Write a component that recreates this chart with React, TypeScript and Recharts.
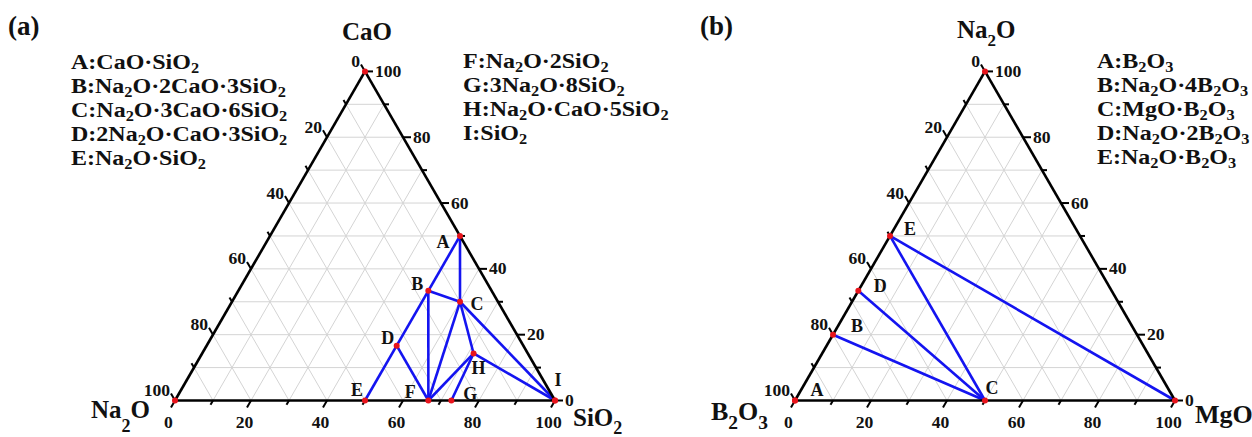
import React from 'react';
import { ScatterChart, Scatter, XAxis, YAxis, ReferenceLine } from 'recharts';

// ---------------- Data ----------------
// Panel (a): Na2O - CaO - SiO2 (mol %). bottom axis = SiO2, right axis = CaO
const namesA = ['A', 'B', 'C', 'D', 'E', 'F', 'G', 'H', 'I'];
const sio2A = [50, 50, 60, 50, 50, 66.67, 72.73, 71.43, 100];
const caoA = [50, 33.33, 30, 16.67, 0, 0, 0, 14.29, 0];
const cornerNamesA = ['Na2O', 'CaO', 'SiO2'];
const cornerBottomA = [0, 0, 100];
const cornerRightA = [0, 100, 0];
const tiesA = [
  ['A', 'B'], ['B', 'D'], ['D', 'E'], ['A', 'C'], ['B', 'C'], ['B', 'F'], ['D', 'F'],
  ['C', 'F'], ['C', 'H'], ['C', 'I'], ['F', 'H'], ['G', 'H'], ['H', 'I'],
];
const legendA1 = ['A:CaO·SiO_2', 'B:Na_2O·2CaO·3SiO_2', 'C:Na_2O·3CaO·6SiO_2', 'D:2Na_2O·CaO·3SiO_2', 'E:Na_2O·SiO_2'];
const legendA2 = ['F:Na_2O·2SiO_2', 'G:3Na_2O·8SiO_2', 'H:Na_2O·CaO·5SiO_2', 'I:SiO_2'];

// Panel (b): B2O3 - Na2O - MgO (mol %). bottom axis = MgO, right axis = Na2O
const namesB = ['A', 'B', 'C', 'D', 'E'];
const mgoB = [0, 0, 50, 0, 0];
const na2oB = [0, 20, 0, 33.33, 50];
const cornerNamesB = ['B2O3', 'Na2O', 'MgO'];
const cornerBottomB = [0, 0, 100];
const cornerRightB = [0, 100, 0];
const tiesB = [['B', 'C'], ['D', 'C'], ['E', 'C'], ['E', 'MgO']];
const legendB = ['A:B_2O_3', 'B:Na_2O·4B_2O_3', 'C:MgO·B_2O_3', 'D:Na_2O·2B_2O_3', 'E:Na_2O·B_2O_3'];

const tickValues = [0, 10, 20, 30, 40, 50, 60, 70, 80, 90, 100];
const majorStep = 20;
const gridValues = [10, 20, 30, 40, 50, 60, 70, 80, 90];

// ---------------- Layout / style ----------------
const FONT = "'Liberation Serif', 'Times New Roman', serif";
const PX = 3.8; // pixels per composition unit
const CHART_W = 626;
const CHART_H = 437;
const BASE_Y = 400.5;
const S3 = Math.sqrt(3) / 2;
const BLUE = '#1414f0';
const GRID = '#d4d4d4';

const labelOffsetsA: Record<string, [number, number]> = {
  A: [-17, 6], B: [-11, -7], C: [17, 2], D: [-9, -8], E: [-8, -11], F: [-18, -9], G: [19, -7], H: [5, 15], I: [3, -21],
};
const labelOffsetsB: Record<string, [number, number]> = {
  A: [22, -11], B: [24, -9], C: [7, -13], D: [22, -5], E: [20, -7],
};

const toXY = (b: number, r: number) => ({ x: b + r / 2, y: r * S3 });

function RichSvg({ x, y, s, size, sx = 1, anchor = 'start', subScale = 0.68, subDrop = 0.2 }: any) {
  const parts = s.split(/_(\d)/);
  const subSize = size * subScale;
  const drop = size * subDrop;
  const kids: any[] = [];
  let pending = 0;
  parts.forEach((p: string, i: number) => {
    if (p === '') return;
    if (i % 2) {
      kids.push(<tspan key={i} fontSize={subSize} dy={drop}>{p}</tspan>);
      pending = -drop;
    } else {
      kids.push(<tspan key={i} dy={pending}>{p}</tspan>);
      pending = 0;
    }
  });
  return (
    <text transform={`translate(${x} ${y}) scale(${sx} 1)`} x={0} y={0} textAnchor={anchor}
      fontFamily={FONT} fontWeight="bold" fontSize={size} fill="#111">{kids}</text>
  );
}

const TickText = (p: any) => {
  const k = p.payload.kind;
  let dx = 0, dy = 0, anchor = 'middle';
  if (k === 'bottom') { dx = -2.5; dy = 21; }
  else if (k === 'right') { dx = 2; dy = 5.5; anchor = 'start'; }
  else { dx = -1; dy = 2.5; anchor = 'end'; }
  return (
    <text transform={`translate(${p.cx + dx} ${p.cy + dy}) scale(1.1 1)`} x={0} y={0} textAnchor={anchor}
      fontFamily={FONT} fontWeight="bold" fontSize={16} fill="#111">{p.payload.t}</text>
  );
};

const LetterText = (p: any) => (
  <text x={p.cx + p.payload.dx} y={p.cy + p.payload.dy + 6} textAnchor="middle" fontFamily={FONT}
    fontWeight="bold" fontSize={18} fill="#111">{p.payload.t}</text>
);

const RedDot = (p: any) => <circle cx={p.cx} cy={p.cy} r={3} fill="#e8141c" />;

function TernaryPanel({ chartLeft, originX, names, bottomVals, rightVals, cornerNames, cornerBottom, cornerRight, ties, offsets }: any) {
  const pts: Record<string, { x: number; y: number }> = {};
  names.forEach((n: string, i: number) => { pts[n] = toXY(bottomVals[i], rightVals[i]); });
  const corners: Record<string, { x: number; y: number }> = {};
  cornerNames.forEach((n: string, i: number) => { corners[n] = toXY(cornerBottom[i], cornerRight[i]); });
  const lookup = (n: string) => pts[n] || corners[n];

  const grid: any[] = [];
  gridValues.forEach((v) => {
    grid.push([toXY(v, 0), toXY(v, 100 - v)]);
    grid.push([toXY(0, v), toXY(100 - v, v)]);
    grid.push([toXY(100 - v, 0), toXY(0, 100 - v)]);
  });

  const ticks: any[] = [];
  const tickLabels: any[] = [];
  tickValues.forEach((v) => {
    const major = v % majorStep === 0;
    const L = (major ? 8 : 5) / PX;
    const pb = toXY(v, 0);
    const eb = { x: pb.x - 0.5 * L, y: pb.y - S3 * L };
    const pr = toXY(100 - v, v);
    const er = { x: pr.x + L, y: pr.y };
    const pl = toXY(0, 100 - v);
    const el = { x: pl.x - 0.5 * L, y: pl.y + S3 * L };
    ticks.push([pb, eb], [pr, er], [pl, el]);
    if (major) {
      tickLabels.push({ x: eb.x, y: eb.y, t: String(v), kind: 'bottom' });
      tickLabels.push({ x: er.x, y: er.y, t: String(v), kind: 'right' });
      tickLabels.push({ x: el.x, y: el.y, t: String(v), kind: 'left' });
    }
  });

  const edges = [
    [toXY(0, 0), toXY(100, 0)],
    [toXY(100, 0), toXY(0, 100)],
    [toXY(0, 100), toXY(0, 0)],
  ];

  const dots = [...names.map((n: string) => pts[n]), ...cornerNames.map((n: string) => corners[n])];
  const letters = names.map((n: string) => ({ ...pts[n], t: n, dx: offsets[n][0], dy: offsets[n][1] }));

  const xDom = [(chartLeft - originX) / PX, (chartLeft + CHART_W - originX) / PX];
  const yDom = [(BASE_Y - CHART_H) / PX, BASE_Y / PX];

  return (
    <ScatterChart width={CHART_W} height={CHART_H} margin={{ top: 0, right: 0, bottom: 0, left: 0 }}>
      <XAxis type="number" dataKey="x" hide domain={xDom} allowDataOverflow />
      <YAxis type="number" dataKey="y" hide domain={yDom} allowDataOverflow />
      {grid.map((s, i) => (
        <ReferenceLine key={'g' + i} segment={s} stroke={GRID} strokeWidth={1} ifOverflow="visible" />
      ))}
      {ties.map((t: string[], i: number) => (
        <ReferenceLine key={'t' + i} segment={[lookup(t[0]), lookup(t[1])]} stroke={BLUE} strokeWidth={2.6} ifOverflow="visible" />
      ))}
      {edges.map((s, i) => (
        <ReferenceLine key={'e' + i} segment={s} stroke="#000" strokeWidth={2.6} ifOverflow="visible" />
      ))}
      {ticks.map((s, i) => (
        <ReferenceLine key={'k' + i} segment={s} stroke="#000" strokeWidth={2} ifOverflow="visible" />
      ))}
      <Scatter data={dots} shape={RedDot} isAnimationActive={false} />
      <Scatter data={tickLabels} shape={TickText} isAnimationActive={false} />
      <Scatter data={letters} shape={LetterText} isAnimationActive={false} />
    </ScatterChart>
  );
}

export default function App() {
  return (
    <div style={{ position: 'absolute', left: 0, top: 0, width: 1252, height: 437, background: '#fff', overflow: 'hidden' }}>
      <div style={{ position: 'absolute', left: 0, top: 0 }}>
        <TernaryPanel chartLeft={0} originX={175} names={namesA} bottomVals={sio2A} rightVals={caoA}
          cornerNames={cornerNamesA} cornerBottom={cornerBottomA} cornerRight={cornerRightA}
          ties={tiesA} offsets={labelOffsetsA} />
      </div>
      <div style={{ position: 'absolute', left: 626, top: 0 }}>
        <TernaryPanel chartLeft={626} originX={795} names={namesB} bottomVals={mgoB} rightVals={na2oB}
          cornerNames={cornerNamesB} cornerBottom={cornerBottomB} cornerRight={cornerRightB}
          ties={tiesB} offsets={labelOffsetsB} />
      </div>
      <svg style={{ position: 'absolute', left: 0, top: 0, pointerEvents: 'none' }} width={1252} height={437}>
        <RichSvg x={8} y={35} s="(a)" size={27} />
        <RichSvg x={700} y={35} s="(b)" size={27} />
        <RichSvg x={367} y={40} s="CaO" size={25} anchor="middle" />
        <RichSvg x={91} y={418} s="Na_2O" size={25} subScale={0.72} subDrop={0.55} />
        <RichSvg x={573} y={426} s="SiO_2" size={25} subScale={0.72} subDrop={0.3} />
        <RichSvg x={957} y={38} s="Na_2O" size={25} subDrop={0.3} />
        <RichSvg x={711} y={420} s="B_2O_3" size={26} subScale={0.75} subDrop={0.35} />
        <RichSvg x={1195} y={423} s="MgO" size={26} />
        {legendA1.map((s, i) => <RichSvg key={'la' + i} x={71} y={69 + i * 24} s={s} size={20} sx={1.2} />)}
        {legendA2.map((s, i) => <RichSvg key={'lb' + i} x={463} y={68 + i * 24} s={s} size={20} sx={1.2} />)}
        {legendB.map((s, i) => <RichSvg key={'lc' + i} x={1097} y={68 + i * 24} s={s} size={20} sx={1.2} />)}
      </svg>
    </div>
  );
}
